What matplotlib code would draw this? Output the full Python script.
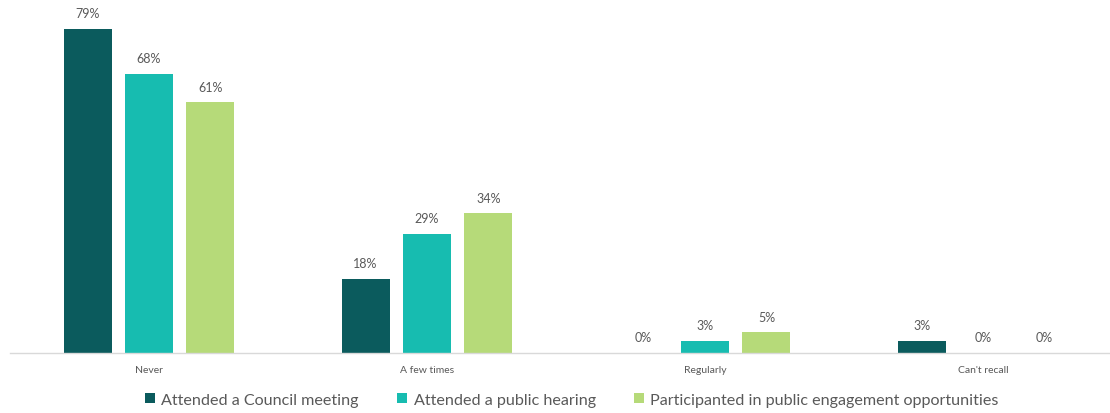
import numpy as np
import matplotlib.pyplot as plt

# Data
categories = ["Never", "A few times", "Regularly", "Can't recall"]
series_names = ["Attended a Council meeting", "Attended a public hearing",
                "Participanted in public engagement opportunities"]
council = [79, 18, 0, 3]
hearing = [68, 29, 3, 0]
engagement = [61, 34, 5, 0]

colors = ["#0b5b5d", "#17bcb0", "#b6da79"]
text_gray = "#595959"

plt.rcParams['font.family'] = ['Lato', 'DejaVu Sans']

fig = plt.figure(figsize=(11.1, 4.14), dpi=100)
ax = fig.add_axes([10/1110, 60/414, 1100/1110, 354/414])

x = np.arange(len(categories))
width = 0.173
step = 0.221
for i, (vals, name) in enumerate(zip([council, hearing, engagement], series_names)):
    pos = x + (i - 1) * step
    bars = ax.bar(pos, vals, width, color=colors[i], label=name)
    for b, v in zip(bars, vals):
        ax.annotate(f"{v}%", (b.get_x() + b.get_width()/2, v),
                    xytext=(0, 7), textcoords="offset points",
                    ha="center", va="bottom", fontsize=9, color=text_gray)

ax.set_xlim(-0.5, -0.5 + 1100/278)
ax.set_ylim(0, 86.2)
ax.set_xticks(x)
ax.set_xticklabels(categories, fontsize=7.5, color=text_gray)
ax.tick_params(axis='x', length=0, pad=9)
ax.set_yticks([])
for s in ["top", "right", "left"]:
    ax.spines[s].set_visible(False)
ax.spines["bottom"].set_color("#d9d9d9")
ax.spines["bottom"].set_linewidth(1)

fig.legend(loc="center", bbox_to_anchor=(572/1110, 1 - 401/414), ncol=3,
           frameon=False, fontsize=11.6, handlelength=0.6, handleheight=0.6,
           handletextpad=0.4, columnspacing=2.4, labelcolor=text_gray)

fig.savefig("out.png", dpi=100)
